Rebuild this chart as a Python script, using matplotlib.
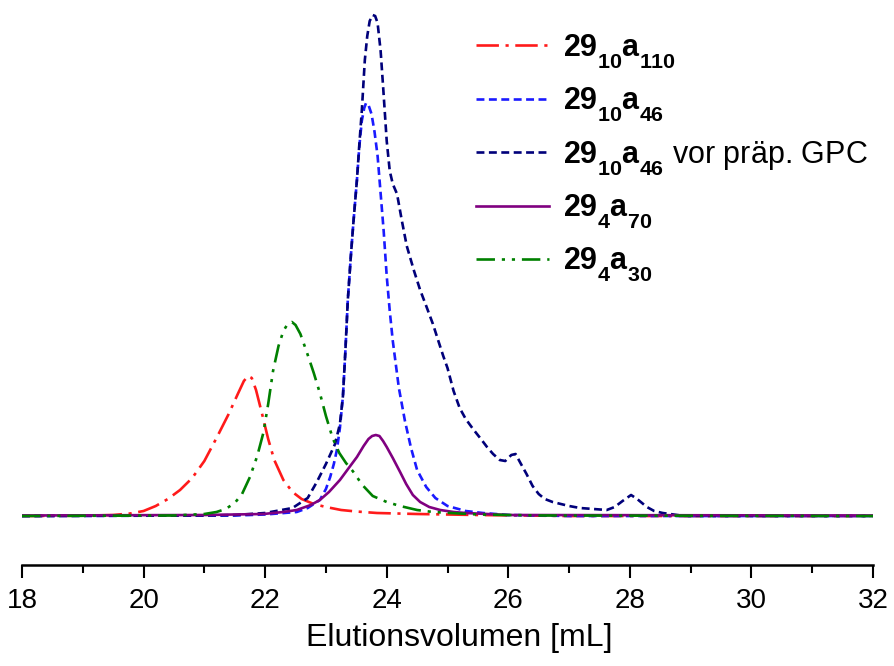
import matplotlib
matplotlib.use("Agg")
import matplotlib.pyplot as plt
from matplotlib.ticker import MultipleLocator
import matplotlib._mathtext as _mt

plt.rcParams['font.family'] = ['Liberation Sans', 'DejaVu Sans']
plt.rcParams['mathtext.fontset'] = 'custom'
plt.rcParams['mathtext.bf'] = 'Liberation Sans:bold'
plt.rcParams['mathtext.rm'] = 'Liberation Sans'
plt.rcParams['mathtext.it'] = 'Liberation Sans:italic'
# subscripts in the original legend sit well below the baseline
_mt.FontConstantsBase.sub1 = 0.75

# ---- data (elution volume in mL, detector signal in arbitrary units) ----
red_x = [18.0, 19.0, 19.5, 19.78, 20.0, 20.2, 20.4, 20.6, 20.8, 21.0, 21.2, 21.4, 21.55, 21.65, 21.72,
         21.78, 21.85, 21.95, 22.05, 22.15, 22.3, 22.45, 22.6, 22.8, 23.0, 23.25, 23.5, 23.84, 24.5, 25.5, 27.0, 32.0]
red_y = [0, 0.3, 1, 2.5, 5, 10, 17, 26, 38, 55, 78, 102, 122, 135, 140,
         138, 126, 102, 77, 56, 36, 24, 17, 12, 9, 6, 4.5, 3, 2, 1, 0, 0]

blue_x = [18.0, 21.5, 22.0, 22.52, 22.7, 22.9, 23.0, 23.07, 23.13, 23.18, 23.23, 23.28, 23.32, 23.36, 23.41,
          23.45, 23.51, 23.55, 23.59, 23.63, 23.66, 23.7, 23.75, 23.8, 23.85, 23.89, 23.95, 24.0, 24.05, 24.1,
          24.2, 24.3, 24.4, 24.5, 24.65, 24.8, 25.0, 25.3, 25.58, 26.0, 27.0, 32.0]
blue_y = [0, 0.5, 1.5, 4, 8, 16, 27, 39, 52, 66, 88, 120, 165, 216, 260,
          292, 336, 370, 395, 408, 413, 411, 402, 384, 360, 330, 285, 240, 205, 175,
          128, 95, 68, 46, 29, 18, 10, 5, 3, 1, 0, 0]

navy_x = [18.0, 21.0, 21.5, 22.0, 22.45, 22.7, 22.85, 23.0, 23.15, 23.23, 23.28, 23.32, 23.36, 23.41, 23.45,
          23.51, 23.55, 23.59, 23.64, 23.68, 23.72, 23.77, 23.81, 23.85, 23.9, 23.94, 24.0, 24.05, 24.1, 24.17,
          24.25, 24.33, 24.45, 24.55, 24.65, 24.76, 24.85, 24.93, 25.0, 25.1, 25.2, 25.3, 25.42, 25.55, 25.65,
          25.75, 25.86, 25.95, 26.05, 26.12, 26.2, 26.3, 26.4, 26.5, 26.6, 26.73, 27.0, 27.18, 27.4, 27.62,
          27.75, 27.88, 28.02, 28.12, 28.28, 28.4, 28.54, 28.9, 32.0]
navy_y = [0, 0.5, 1, 3, 8, 18, 34, 52, 72, 92, 120, 165, 216, 260, 292,
          336, 372, 405, 456, 480, 495, 501, 500, 493, 465, 430, 375, 345, 332, 322,
          295, 270, 245, 226, 210, 192, 175, 160, 148, 125, 108, 97, 87, 77, 69,
          62, 56, 55, 61, 62, 53, 42, 30, 22, 17, 14, 10, 8, 7, 6,
          9, 15, 21, 17, 9, 5, 3, 0, 0]

purple_x = [18.0, 21.0, 21.97, 22.3, 22.52, 22.75, 22.9, 23.05, 23.23, 23.4, 23.51, 23.62, 23.7, 23.76, 23.82,
            23.88, 23.94, 24.0, 24.1, 24.22, 24.32, 24.43, 24.55, 24.7, 24.88, 25.1, 25.3, 26.0, 32.0]
purple_y = [0.5, 1, 2, 4, 6, 11, 16, 24, 36, 50, 59, 70, 77, 80, 81,
            80, 75, 69, 58, 44, 32, 21, 14, 9, 6, 4, 3, 1, 0.5]

green_x = [18.0, 20.5, 21.0, 21.2, 21.35, 21.5, 21.62, 21.75, 21.87, 21.97, 22.05, 22.13, 22.22, 22.3, 22.37,
           22.44, 22.5, 22.58, 22.69, 22.8, 22.9, 23.0, 23.11, 23.22, 23.33, 23.44, 23.6, 23.77, 24.0, 24.22,
           24.5, 24.76, 25.2, 25.5, 26.5, 32.0]
green_y = [0, 0.5, 2, 4, 7, 13, 22, 39, 60, 83, 112, 145, 170, 185, 192,
           194, 191, 182, 163, 143, 123, 100, 78, 63, 53, 45, 31, 20, 14, 10,
           6, 4, 2.5, 1.5, 0.5, 0]

labels = [r'$\mathbf{29_{10}a_{110}}$',
          r'$\mathbf{29_{10}a_{46}}$',
          r'$\mathbf{29_{10}a_{46}}$ vor präp. GPC',
          r'$\mathbf{29_{4}a_{70}}$',
          r'$\mathbf{29_{4}a_{30}}$']

x_ticks = [18, 20, 22, 24, 26, 28, 30, 32]
x_label = 'Elutionsvolumen [mL]'

# ---- figure ----
fig = plt.figure(figsize=(8.94, 6.66), dpi=100)
ax = fig.add_axes([22/894, 101/666, 851/894, 555/666])

lw = 1.9
ax.plot(red_x, red_y, color='#ff1a1a', lw=lw, ls=(0, (8.5, 2.5, 1.2, 2.5)), label=labels[0])
ax.plot(blue_x, blue_y, color='#1a1aff', lw=lw, ls=(0, (3.0, 1.7)), label=labels[1])
ax.plot(navy_x, navy_y, color='#00007a', lw=lw, ls=(0, (3.0, 1.7)), label=labels[2])
ax.plot(purple_x, purple_y, color='#800080', lw=lw, ls='-', label=labels[3])
ax.plot(green_x, green_y, color='#008000', lw=lw, ls=(0, (7, 2.6, 1.2, 2.6, 1.2, 2.6)), label=labels[4])

ax.set_xlim(18, 32)
ax.set_ylim(-49, 506)
for s in ['top', 'left', 'right']:
    ax.spines[s].set_visible(False)
ax.spines['bottom'].set_linewidth(1.8)
ax.set_yticks([])
ax.set_xticks(x_ticks)
ax.xaxis.set_minor_locator(MultipleLocator(1))
ax.tick_params(axis='x', which='major', direction='out', length=9.5, width=1.5, labelsize=20, pad=7)
ax.tick_params(axis='x', which='minor', direction='out', length=5.5, width=1.5)

ax.set_xlabel(x_label, fontsize=23)
ax.xaxis.set_label_coords(0.5135, -0.1315)
ax.xaxis.label.set_verticalalignment('center')

leg = ax.legend(loc='upper left', bbox_to_anchor=(476/894, 1 - 32/666), bbox_transform=fig.transFigure,
                frameon=False, fontsize=22, handlelength=2.4, handletextpad=0.45,
                labelspacing=0.48, borderpad=0, borderaxespad=0)

fig.savefig('out.png', dpi=100)
